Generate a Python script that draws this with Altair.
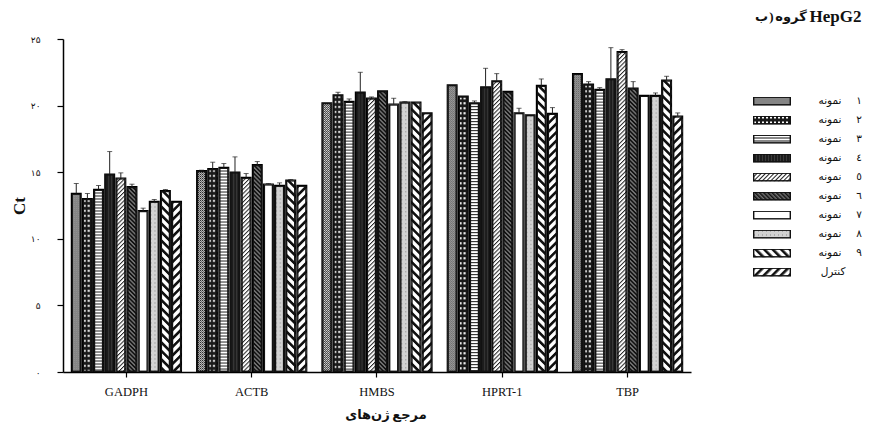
import altair as alt
import pandas as pd
from urllib.parse import quote

# ---------------- data ----------------
GENES = ["GADPH", "ACTB", "HMBS", "HPRT-1", "TBP"]
SAMPLES = ["s1", "s2", "s3", "s4", "s5", "s6", "s7", "s8", "s9", "control"]
SAMPLE_WORD = "نمونه"
SAMPLE_DIGITS = ["۱", "۲", "۳", "٤", "٥", "٦", "۷", "۸", "۹", ""]
CONTROL_LABEL = "کنترل"

GADPH = [13.4, 13.0, 13.7, 14.85, 14.55, 13.9, 12.1, 12.8, 13.6, 12.8]
GADPH_ERR = [0.75, 0.4, 0.3, 1.7, 0.4, 0.2, 0.2, 0.15, 0.1, 0.0]
ACTB = [15.1, 15.25, 15.35, 15.0, 14.6, 15.55, 14.1, 14.0, 14.4, 14.0]
ACTB_ERR = [0.05, 0.5, 0.3, 1.15, 0.3, 0.25, 0.05, 0.2, 0.05, 0.0]
HMBS = [20.2, 20.8, 20.3, 21.0, 20.55, 21.1, 20.1, 20.25, 20.25, 19.45]
HMBS_ERR = [0.0, 0.2, 0.2, 1.5, 0.1, 0.0, 0.45, 0.05, 0.0, 0.0]
HPRT1 = [21.55, 20.7, 20.2, 21.4, 21.85, 21.05, 19.45, 19.3, 21.5, 19.4]
HPRT1_ERR = [0.0, 0.0, 0.15, 1.4, 0.55, 0.0, 0.35, 0.0, 0.5, 0.45]
TBP = [22.4, 21.6, 21.2, 22.0, 24.05, 21.3, 20.75, 20.75, 21.9, 19.2]
TBP_ERR = [0.0, 0.2, 0.15, 2.35, 0.15, 0.5, 0.0, 0.2, 0.3, 0.25]

Y_TICKS = [0, 5, 10, 15, 20, 25]
Y_TICK_LABELS = ["۰", "۵", "۱۰", "۱۵", "۲۰", "۲۵"]

# title "ب) گروه HepG2" and x title "ژن‌های مرجع", kept as single-direction pieces
TITLE_PARTS = ["ب", ")", "گروه", "HepG2"]
X_TITLE_PARTS = ["ژن‌های", "مرجع"]
Y_TITLE = "Ct"

# ---------------- styles ----------------
SERIF = "Liberation Serif, DejaVu Sans"
GRAYS = ["#999999", "#444444", "#bbbbbb", "#1c1c1c", "#aaaaaa",
         "#555555", "#ffffff", "#d0d0d0", "#888888", "#888888"]
PLOT_W, PLOT_H = 628, 333


def pattern(tw, th, content, rot=None):
    tr = f" patternTransform='rotate({rot})'" if rot is not None else ""
    svg = (f"<svg xmlns='http://www.w3.org/2000/svg' width='100%' height='100%'>"
           f"<defs><pattern id='p' width='{tw}' height='{th}' patternUnits='userSpaceOnUse'{tr}>"
           f"{content}</pattern></defs>"
           f"<rect width='100%' height='100%' fill='url(#p)' stroke='#111' stroke-width='2.8'/></svg>")
    return "data:image/svg+xml;charset=utf-8," + quote(svg)


PATTERNS = [
    pattern(2, 2, "<rect width='2' height='2' fill='#e8e8e8'/><rect width='1' height='1' fill='#222'/>"
                  "<rect x='1' y='1' width='1' height='1' fill='#222'/>"),
    pattern(4, 5, "<rect width='4' height='5' fill='#1a1a1a'/><rect x='1' y='1' width='2' height='2' fill='#fff'/>"),
    pattern(2, 3, "<rect width='2' height='3' fill='#fff'/><rect width='2' height='1' fill='#111'/>"),
    pattern(3, 2, "<rect width='3' height='2' fill='#1c1c1c'/><rect width='1' height='2' fill='#3a3a3a'/>"),
    pattern(3, 3, "<rect width='3' height='3' fill='#fff'/><rect width='1' height='3' fill='#222'/>", 45),
    pattern(3, 3, "<rect width='3' height='3' fill='#707070'/><rect width='1.5' height='3' fill='#111'/>", -45),
    pattern(2, 2, "<rect width='2' height='2' fill='#fff'/>"),
    pattern(4, 4, "<rect width='4' height='4' fill='#d2d2d2'/><rect x='1' y='1' width='1' height='1' fill='#888'/>"),
    pattern(6, 6, "<rect width='6' height='6' fill='#fff'/><rect width='2.6' height='6' fill='#111'/>", -45),
    pattern(6, 6, "<rect width='6' height='6' fill='#fff'/><rect width='2.6' height='6' fill='#111'/>", 45),
]

# ---------------- tables ----------------
rows = []
for g, vals, errs in zip(GENES, [GADPH, ACTB, HMBS, HPRT1, TBP],
                         [GADPH_ERR, ACTB_ERR, HMBS_ERR, HPRT1_ERR, TBP_ERR]):
    for s, v, e in zip(SAMPLES, vals, errs):
        rows.append({"gene": g, "sample": s, "value": v, "err": e})
df = pd.DataFrame(rows)
pat_df = pd.DataFrame({"sample": SAMPLES, "url": PATTERNS})
leg_df = pd.DataFrame({"sample": SAMPLES,
                       "word": [SAMPLE_WORD] * 9 + [""],
                       "digit": SAMPLE_DIGITS,
                       "ctrl": [""] * 9 + [CONTROL_LABEL]})
one = pd.DataFrame({"k": [0]})

y_label_expr = " : ".join(
    f"datum.value == {v} ? '{l}'" for v, l in zip(Y_TICKS, Y_TICK_LABELS)) + " : ''"

x_enc = alt.X("gene:N", sort=GENES,
              scale=alt.Scale(domain=GENES, paddingInner=0.124, paddingOuter=0.068),
              axis=alt.Axis(title=None, labelAngle=0, labelFont=SERIF, labelFontSize=12.5,
                            labelColor="#111", tickSize=5, tickColor="black", tickWidth=1.2,
                            domainColor="black", domainWidth=1.5, labelPadding=8))
xo_enc = alt.XOffset("sample:N", sort=SAMPLES,
                     scale=alt.Scale(domain=SAMPLES, paddingInner=0.15, paddingOuter=0.0))
y_enc = alt.Y("value:Q", scale=alt.Scale(domain=[0, 25], nice=False),
              axis=alt.Axis(values=Y_TICKS, labelExpr=y_label_expr, grid=False, title=Y_TITLE,
                            labelFont=SERIF, labelFontSize=9, labelColor="#111", labelPadding=17,
                            tickSize=6, tickColor="black", tickWidth=1.2, domainColor="black",
                            domainWidth=1.5, titleFont=SERIF, titleFontSize=17,
                            titleFontWeight="bold", titleColor="#111", titlePadding=2))

bars = alt.Chart(df).mark_bar(stroke="black", strokeWidth=1.5).encode(
    x=x_enc, xOffset=xo_enc, y=y_enc,
    fill=alt.Fill("sample:N", scale=alt.Scale(domain=SAMPLES, range=GRAYS), legend=None))

textures = alt.Chart(df).transform_lookup(
    lookup="sample", from_=alt.LookupData(data=pat_df, key="sample", fields=["url"])
).mark_image(aspect=False).encode(
    x=x_enc, xOffset=xo_enc, y=alt.Y("value:Q"), y2=alt.datum(0), url="url:N")

err_base = alt.Chart(df).transform_filter("datum.err > 0").transform_calculate(
    hi="datum.value + datum.err")
err_rule = err_base.mark_rule(color="#222", strokeWidth=1).encode(
    x=x_enc, xOffset=xo_enc, y=alt.Y("value:Q"), y2="hi:Q")
err_cap = err_base.mark_tick(color="#222", thickness=1, size=5, orient="horizontal").encode(
    x=x_enc, xOffset=xo_enc, y=alt.Y("hi:Q"))

xt_style = dict(font=SERIF, fontSize=13, fontWeight="bold", color="#111",
                baseline="middle", align="center")
xt1 = alt.Chart(one).mark_text(text=X_TITLE_PARTS[0], **xt_style).encode(
    x=alt.value(304.5), y=alt.value(PLOT_H + 43))
xt2 = alt.Chart(one).mark_text(text=X_TITLE_PARTS[1], **xt_style).encode(
    x=alt.value(346.5), y=alt.value(PLOT_H + 43))

main = alt.layer(bars, textures, err_rule, err_cap, xt1, xt2).properties(
    width=PLOT_W, height=PLOT_H)

# ---------------- legend + title panel ----------------
leg_y = alt.Y("sample:N", sort=SAMPLES,
              scale=alt.Scale(type="point", domain=SAMPLES, range=[62, 233], padding=0),
              axis=None)
leg_img = alt.Chart(leg_df).transform_lookup(
    lookup="sample", from_=alt.LookupData(data=pat_df, key="sample", fields=["url"])
).mark_image(aspect=False, width=38, height=9, align="left", baseline="middle").encode(
    x=alt.value(0), y=leg_y, url="url:N")
leg_style = dict(baseline="middle", align="center", font=SERIF, fontSize=10.5, color="#111")
leg_word = alt.Chart(leg_df).mark_text(**leg_style).encode(
    x=alt.value(77), y=leg_y, text="word:N")
leg_digit = alt.Chart(leg_df).mark_text(**leg_style).encode(
    x=alt.value(106), y=leg_y, text="digit:N")
leg_ctrl = alt.Chart(leg_df).mark_text(**leg_style).encode(
    x=alt.value(80), y=leg_y, text="ctrl:N")

t_style = dict(font=SERIF, fontWeight="bold", color="#111", baseline="middle", align="center")
t1 = alt.Chart(one).mark_text(text=TITLE_PARTS[0], fontSize=13, **t_style).encode(
    x=alt.value(8.5), y=alt.value(-22))
t2 = alt.Chart(one).mark_text(text=TITLE_PARTS[1], fontSize=13, **t_style).encode(
    x=alt.value(18.5), y=alt.value(-22))
t3 = alt.Chart(one).mark_text(text=TITLE_PARTS[2], fontSize=13, **t_style).encode(
    x=alt.value(38), y=alt.value(-22))
t4 = alt.Chart(one).mark_text(text=TITLE_PARTS[3], fontSize=17, **t_style).encode(
    x=alt.value(82.5), y=alt.value(-22))

legend = alt.layer(leg_img, leg_word, leg_digit, leg_ctrl, t1, t2, t3, t4).properties(
    width=110, height=PLOT_H)

chart = alt.hconcat(main, legend, spacing=62, bounds="flush").properties(
    padding={"left": 2, "top": 0, "right": 0, "bottom": 0},
).configure_view(stroke=None)

chart.save("out.html", embed_options={"renderer": "svg", "actions": False})
